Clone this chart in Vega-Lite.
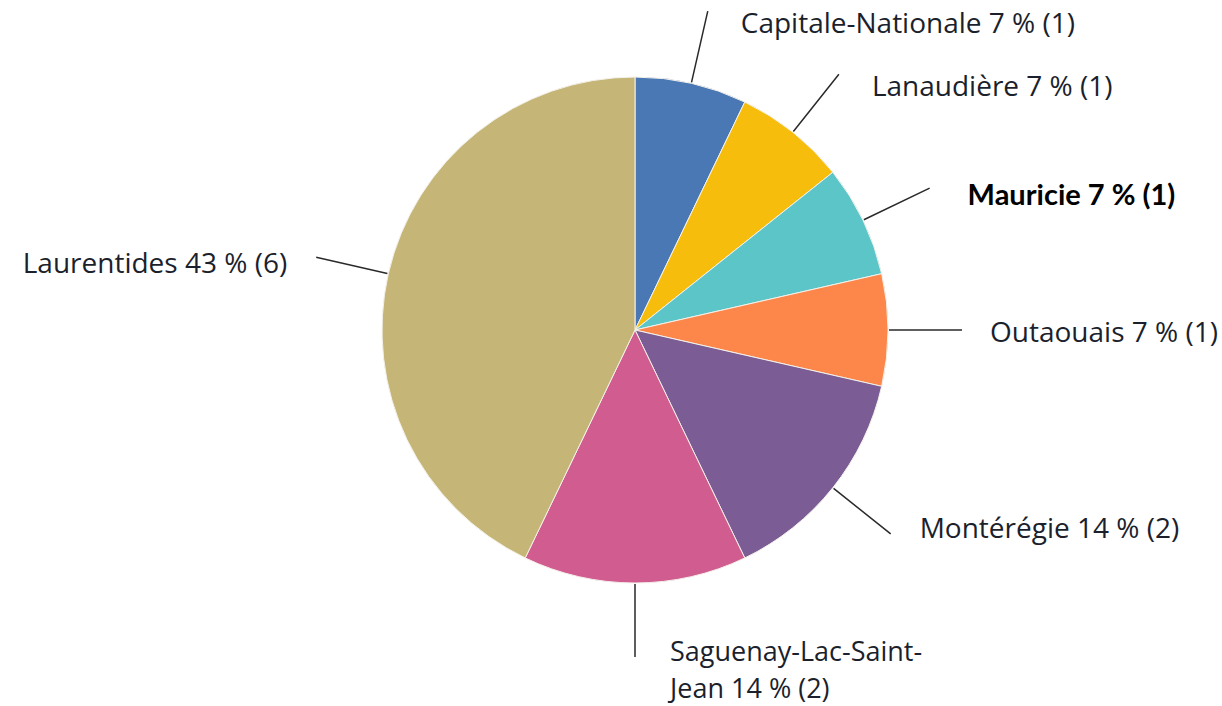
{
  "$schema": "https://vega.github.io/schema/vega-lite/v6.json",
  "autosize": {"type": "none"},
  "width": 1174,
  "height": 660,
  "padding": {"left": 48, "top": 0, "right": 0, "bottom": 46},
  "background": "white",
  "config": {"view": {"stroke": null}},
  "data": {
    "values": [
      {"idx": 1, "region": "Capitale-Nationale", "n": 1, "label": "Capitale-Nationale 7 % (1)", "grp": "top"},
      {"idx": 2, "region": "Lanaudière", "n": 1, "label": "Lanaudière 7 % (1)", "grp": "top"},
      {"idx": 3, "region": "Mauricie", "n": 1, "label": "Mauricie 7 % (1)", "grp": "bold"},
      {"idx": 4, "region": "Outaouais", "n": 1, "label": "Outaouais 7 % (1)", "grp": "mid"},
      {"idx": 5, "region": "Montérégie", "n": 2, "label": "Montérégie 14 % (2)", "grp": "low"},
      {"idx": 6, "region": "Saguenay-Lac-Saint-Jean", "n": 2, "label": "Saguenay-Lac-Saint-\nJean 14 % (2)", "grp": "bottom"},
      {"idx": 7, "region": "Laurentides", "n": 6, "label": "Laurentides 43 % (6)", "grp": "left"}
    ]
  },
  "transform": [
    {"stack": "n", "groupby": [], "sort": [{"field": "idx", "order": "ascending"}], "as": ["s0", "s1"]},
    {"calculate": "(datum.s0 + datum.s1) / 2", "as": "mid"}
  ],
  "layer": [
    {
      "mark": {"type": "arc", "radius": 253, "stroke": "#f4f1ea", "strokeWidth": 1},
      "encoding": {
        "theta": {"field": "s0", "type": "quantitative", "stack": null, "scale": {"domain": [0, 14]}},
        "theta2": {"field": "s1"},
        "color": {
          "field": "region",
          "type": "nominal",
          "legend": null,
          "scale": {
            "domain": ["Capitale-Nationale", "Lanaudière", "Mauricie", "Outaouais", "Montérégie", "Saguenay-Lac-Saint-Jean", "Laurentides"],
            "range": ["#4a78b4", "#f6bd0c", "#5bc5c8", "#fd874b", "#7b5c94", "#d05c90", "#c5b678"]
          }
        }
      }
    },
    {
      "mark": {"type": "arc", "radius": 327, "radius2": 254, "fill": "transparent", "stroke": "#2a2a2a", "strokeWidth": 1.5},
      "encoding": {
        "theta": {"field": "mid", "type": "quantitative", "stack": null, "scale": {"domain": [0, 14]}},
        "theta2": {"field": "mid"}
      }
    },
    {
      "transform": [{"filter": "datum.grp == 'top'"}],
      "mark": {"type": "text", "radius": 327, "align": "left", "baseline": "alphabetic", "dx": 33, "dy": 22, "font": "Open Sans", "fontSize": 28, "color": "#1c1f2c"},
      "encoding": {
        "theta": {"field": "mid", "type": "quantitative", "stack": null, "scale": {"domain": [0, 14]}},
        "text": {"field": "label"}
      }
    },
    {
      "transform": [{"filter": "datum.grp == 'mid'"}],
      "mark": {"type": "text", "radius": 327, "align": "left", "baseline": "alphabetic", "dx": 28, "dy": 12, "font": "Open Sans", "fontSize": 28, "color": "#1c1f2c"},
      "encoding": {
        "theta": {"field": "mid", "type": "quantitative", "stack": null, "scale": {"domain": [0, 14]}},
        "text": {"field": "label"}
      }
    },
    {
      "transform": [{"filter": "datum.grp == 'low'"}],
      "mark": {"type": "text", "radius": 327, "align": "left", "baseline": "alphabetic", "dx": 29, "dy": 4, "font": "Open Sans", "fontSize": 28, "color": "#1c1f2c"},
      "encoding": {
        "theta": {"field": "mid", "type": "quantitative", "stack": null, "scale": {"domain": [0, 14]}},
        "text": {"field": "label"}
      }
    },
    {
      "transform": [{"filter": "datum.grp == 'bold'"}],
      "mark": {"type": "text", "radius": 327, "align": "left", "baseline": "alphabetic", "dx": 38, "dy": 17, "font": "Lato", "fontWeight": "bold", "fontSize": 29, "color": "#000000"},
      "encoding": {
        "theta": {"field": "mid", "type": "quantitative", "stack": null, "scale": {"domain": [0, 14]}},
        "text": {"field": "label"}
      }
    },
    {
      "transform": [{"filter": "datum.grp == 'left'"}],
      "mark": {"type": "text", "radius": 327, "align": "right", "baseline": "alphabetic", "dx": -29, "dy": 16, "font": "Open Sans", "fontSize": 28, "color": "#1c1f2c"},
      "encoding": {
        "theta": {"field": "mid", "type": "quantitative", "stack": null, "scale": {"domain": [0, 14]}},
        "text": {"field": "label"}
      }
    },
    {
      "transform": [{"filter": "datum.grp == 'bottom'"}],
      "mark": {"type": "text", "radius": 327, "align": "left", "baseline": "alphabetic", "dx": 35, "dy": 4, "lineBreak": "\n", "lineHeight": 37, "font": "Open Sans", "fontSize": 27, "color": "#1c1f2c"},
      "encoding": {
        "theta": {"field": "mid", "type": "quantitative", "stack": null, "scale": {"domain": [0, 14]}},
        "text": {"field": "label"}
      }
    }
  ]
}
